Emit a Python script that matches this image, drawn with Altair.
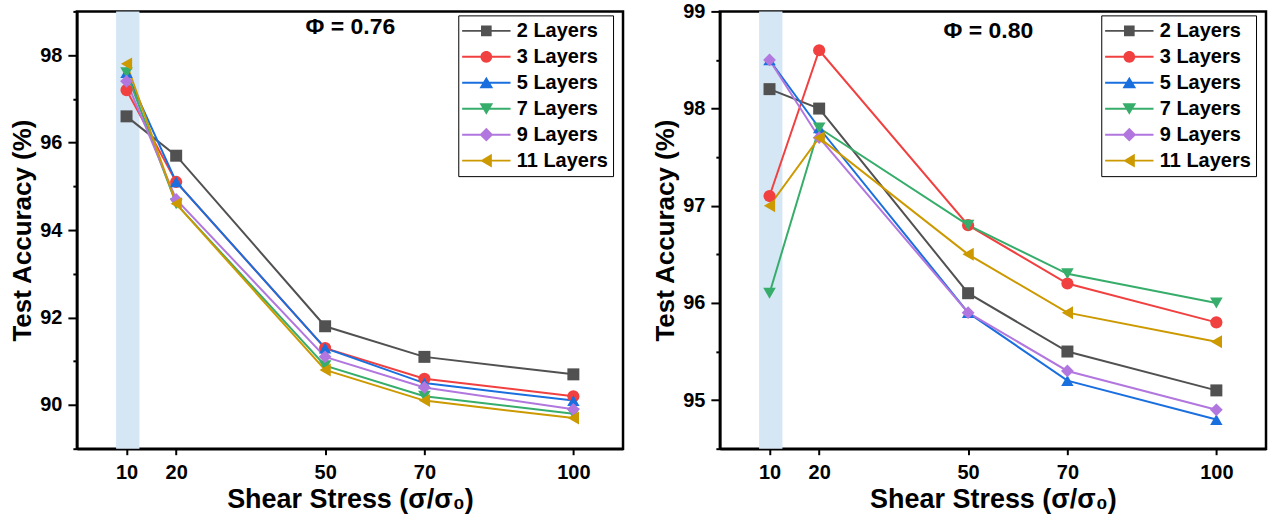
import altair as alt
import pandas as pd

# Shear stress levels (sigma / sigma_0)
shear = [10, 20, 50, 70, 100]

series = ["2 Layers", "3 Layers", "5 Layers", "7 Layers", "9 Layers", "11 Layers"]
colors = ["#515151", "#F14040", "#1A6FDF", "#37AD6B", "#B177DE", "#CC9900"]
shapes = ["square", "circle", "triangle-up", "triangle-down", "diamond", "triangle-left"]
marker_sizes = [144, 169, 196, 196, 196, 196]

# Test accuracy (%) for packing fraction 0.76
phi076_l2 = [96.6, 95.7, 91.8, 91.1, 90.7]
phi076_l3 = [97.2, 95.1, 91.3, 90.6, 90.2]
phi076_l5 = [97.6, 95.1, 91.3, 90.5, 90.1]
phi076_l7 = [97.6, 94.6, 90.9, 90.2, 89.8]
phi076_l9 = [97.4, 94.7, 91.1, 90.4, 89.9]
phi076_l11 = [97.8, 94.6, 90.8, 90.1, 89.7]

# Test accuracy (%) for packing fraction 0.80
phi080_l2 = [98.2, 98.0, 96.1, 95.5, 95.1]
phi080_l3 = [97.1, 98.6, 96.8, 96.2, 95.8]
phi080_l5 = [98.5, 97.8, 95.9, 95.2, 94.8]
phi080_l7 = [96.1, 97.8, 96.8, 96.3, 96.0]
phi080_l9 = [98.5, 97.7, 95.9, 95.3, 94.9]
phi080_l11 = [97.0, 97.7, 96.5, 95.9, 95.6]

# Highlighted shear band around the lowest stress
band_start = [7.9]
band_end = [12.6]

FONT = "Liberation Sans"

# Legend glyphs: a thin bar (the line) through the marker, all sub-paths
# wound the same way so the union fills solidly
marker_paths = {
    "square": "M-0.56,-0.56H0.56V0.56H-0.56Z",
    "circle": "M-0.62,0A0.62,0.62 0 1,1 0.62,0A0.62,0.62 0 1,1 -0.62,0Z",
    "triangle-up": "M0,-0.64L0.72,0.58L-0.72,0.58Z",
    "triangle-down": "M0,0.64L-0.72,-0.58L0.72,-0.58Z",
    "diamond": "M0,-0.72L0.72,0L0,0.72L-0.72,0Z",
    "triangle-left": "M-0.64,0L0.58,-0.72L0.58,0.72Z",
}
legend_paths = ["M-2.55,-0.1H2.55V0.1H-2.55Z" + marker_paths[s] for s in shapes]


def make_legend(legend_y):
    return alt.Legend(
        title=None,
        orient="none",
        legendX=382,
        legendY=legend_y,
        padding=5,
        rowPadding=5,
        symbolSize=361,
        symbolOffset=12.6,
        symbolOpacity=1,
        labelOffset=20,
        labelFont=FONT,
        labelFontSize=20,
        labelFontWeight="bold",
        labelColor="black",
        strokeColor="black",
        fillColor="white",
    )


def panel(values, phi_text, phi_x, phi_y, y_domain, y_ticks, major_test, legend_y):
    rows = []
    for name, accs in zip(series, values):
        for s, a in zip(shear, accs):
            rows.append({"shear": s, "acc": a, "series": name})
    df = pd.DataFrame(rows)
    band_df = pd.DataFrame({"x0": band_start, "x1": band_end})

    x_axis = alt.Axis(
        values=shear,
        title="Shear Stress (σ/σ₀)",
        titleFontSize=27,
        tickSize=6,
        labelPadding=8,
        titlePadding=4,
    )
    x_scale = alt.Scale(domain=[0, 110], nice=False, zero=False)
    y_axis = alt.Axis(
        values=y_ticks,
        title="Test Accuracy (%)",
        titleFontSize=26,
        labelExpr=f"{major_test} ? format(datum.value, 'd') : ''",
        tickSize={"condition": {"test": major_test, "value": 9}, "value": 4},
        labelPadding=6,
        titlePadding=4,
    )
    y_scale = alt.Scale(domain=y_domain, nice=False, zero=False)

    legend = make_legend(legend_y)
    color_scale = alt.Scale(domain=series, range=colors)
    x_enc = alt.X("shear:Q", scale=x_scale, axis=x_axis)
    y_enc = alt.Y("acc:Q", scale=y_scale, axis=y_axis)

    band = alt.Chart(band_df).mark_rect(color="#d5e6f5").encode(
        x=alt.X("x0:Q", scale=x_scale, axis=x_axis),
        x2="x1:Q",
    )
    lines = alt.Chart(df).mark_line(strokeWidth=2).encode(
        x=x_enc,
        y=y_enc,
        color=alt.Color("series:N", scale=color_scale, legend=None),
        detail="series:N",
    )
    points = alt.Chart(df).mark_point(filled=True, opacity=1).encode(
        x=x_enc,
        y=y_enc,
        color=alt.Color("series:N", scale=color_scale, legend=None),
        shape=alt.Shape("series:N", scale=alt.Scale(domain=series, range=shapes), legend=None),
        size=alt.Size("series:N", scale=alt.Scale(domain=series, range=marker_sizes), legend=None),
    )
    # invisible layer whose colour and shape scales supply the line-and-marker legend
    key = alt.Chart(df).mark_point(filled=True, opacity=0).encode(
        x=x_enc,
        y=y_enc,
        color=alt.Color("series:N", scale=color_scale, legend=legend),
        shape=alt.Shape("series:N", scale=alt.Scale(domain=series, range=legend_paths), legend=legend),
    )
    phi = alt.Chart(pd.DataFrame({"t": [phi_text]})).mark_text(
        font=FONT, fontSize=23, fontWeight="bold", color="black", baseline="middle"
    ).encode(x=alt.value(phi_x), y=alt.value(phi_y), text="t:N")

    return (
        alt.layer(band, lines, points, key, phi)
        .resolve_scale(color="independent", shape="independent")
        .resolve_legend(color="independent", shape="independent")
        .properties(width=547, height=438)
    )


left = panel(
    [phi076_l2, phi076_l3, phi076_l5, phi076_l7, phi076_l9, phi076_l11],
    "Φ = 0.76", 274, 16, [89, 99], list(range(89, 100)),
    "datum.value % 2 === 0", 4,
)
right = panel(
    [phi080_l2, phi080_l3, phi080_l5, phi080_l7, phi080_l9, phi080_l11],
    "Φ = 0.80", 269, 19.5, [94.5, 99], [94.5 + 0.5 * i for i in range(10)],
    "datum.value % 1 === 0", 4,
)

chart = (
    alt.hconcat(left, right, spacing=26)
    .resolve_scale(color="independent", shape="independent", size="independent")
    .resolve_legend(color="independent", shape="independent")
    .properties(padding={"left": 8, "top": -1, "right": 2, "bottom": 4}, background="white")
    .configure_view(stroke="black", strokeWidth=2.5)
    .configure_axis(
        labelFont=FONT,
        labelFontSize=20,
        labelFontWeight="bold",
        labelColor="black",
        titleFont=FONT,
        titleFontWeight="bold",
        titleColor="black",
        domainColor="black",
        domainWidth=2.5,
        tickColor="black",
        tickWidth=2,
        grid=False,
    )
)

chart.save("out.html", embed_options={"renderer": "svg", "actions": False})
